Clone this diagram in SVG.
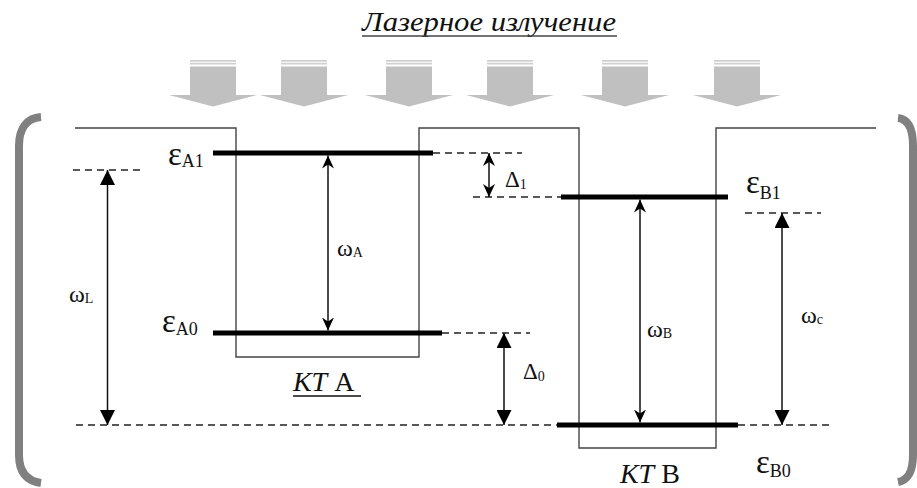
<svg xmlns="http://www.w3.org/2000/svg" width="917" height="488" viewBox="0 0 917 488">
<style>
.prof{fill:none;stroke:#444;stroke-width:1.4}
.lvl{stroke:#000;stroke-width:5}
.dash{stroke:#222;stroke-width:1.4;stroke-dasharray:7 5}
.arr{stroke:#111;stroke-width:1.5;fill:none}
.br{fill:none;stroke:#808080;stroke-width:8}
.t{font-family:"Liberation Serif","DejaVu Serif","Noto Serif",serif;fill:#111}
.eps{font-size:33px}
.sub{font-size:18px}
.om{font-size:24px}
.osub{font-size:14px}
</style>
<defs>
<marker id="tri" viewBox="0 0 15 15" refX="15" refY="7.5" markerWidth="15" markerHeight="15" markerUnits="userSpaceOnUse" orient="auto-start-reverse">
<path d="M0,0 L15,7.5 L0,15 z" fill="#000"/>
</marker>
<marker id="stl" viewBox="0 0 13 13" refX="13" refY="6.5" markerWidth="13" markerHeight="13" markerUnits="userSpaceOnUse" orient="auto-start-reverse">
<path d="M0,0.5 L13,6.5 L0,12.5 L4,6.5 z" fill="#000"/>
</marker>
<g id="laser">
<rect x="-23" y="60" width="46" height="1.7" fill="#cfcfcf"/>
<rect x="-23" y="62.8" width="46" height="1.7" fill="#cfcfcf"/>
<rect x="-23" y="66.5" width="46" height="29" fill="#c0c0c0"/>
<polygon points="-44,95 44,95 0,106.5" fill="#c0c0c0"/>
</g>
</defs>
<rect width="917" height="488" fill="#fff"/>

<g id="title">
<text class="t" x="362" y="31" font-size="27" font-style="italic" textLength="254" lengthAdjust="spacingAndGlyphs">Лазерное излучение</text>
<line x1="362" y1="36" x2="617" y2="36" stroke="#444" stroke-width="1.6"/>
</g>

<g id="laser-arrows">
<use href="#laser" x="213"/>
<use href="#laser" x="304"/>
<use href="#laser" x="409"/>
<use href="#laser" x="510"/>
<use href="#laser" x="625"/>
<use href="#laser" x="737"/>
</g>

<g id="brackets">
<path class="br" d="M41,117 C27,118 19,128 19,146 V455 C19,472 27,481 41,483"/>
<path class="br" d="M898,118 C908,119 913,128 913,146 V455 C913,472 908,480 898,482"/>
</g>

<g id="profile">
<path class="prof" d="M75,128 H236 V357 H419 V128 H579 V448 H716 V128 H876"/>
</g>

<g id="dashes">
<line class="dash" x1="433" y1="153" x2="522" y2="153"/>
<line class="dash" x1="73" y1="170" x2="144" y2="170"/>
<line class="dash" x1="473" y1="197" x2="561" y2="197"/>
<line class="dash" x1="745" y1="213" x2="821" y2="213"/>
<line class="dash" x1="442" y1="333" x2="530" y2="333"/>
<line class="dash" x1="76" y1="425" x2="557" y2="425"/>
<line class="dash" x1="738" y1="425" x2="832" y2="425"/>
</g>

<g id="level-A1">
<line class="lvl" x1="213" y1="153" x2="433" y2="153"/>
<text class="t" x="168" y="165"><tspan class="eps">ε</tspan><tspan class="sub" dy="2">A1</tspan></text>
</g>
<g id="level-A0">
<line class="lvl" x1="213" y1="333" x2="442" y2="333"/>
<text class="t" x="162" y="332"><tspan class="eps">ε</tspan><tspan class="sub" dy="3">A0</tspan></text>
</g>
<g id="level-B1">
<line class="lvl" x1="561" y1="197" x2="728" y2="197"/>
<text class="t" x="746" y="193"><tspan class="eps">ε</tspan><tspan class="sub" dy="6">B1</tspan></text>
</g>
<g id="level-B0">
<line class="lvl" x1="557" y1="425" x2="738" y2="425"/>
<text class="t" x="756" y="473"><tspan class="eps">ε</tspan><tspan class="sub" dy="4">B0</tspan></text>
</g>

<g id="well-A-label">
<text class="t" x="293" y="391" font-size="28"><tspan font-style="italic">КТ</tspan> А</text>
<line x1="293" y1="396" x2="361" y2="396" stroke="#111" stroke-width="1.6"/>
</g>
<g id="well-B-label">
<text class="t" x="620" y="483" font-size="28"><tspan font-style="italic">КТ</tspan> В</text>
</g>

<g id="connectors">
<line class="arr" x1="107.5" y1="170" x2="107.5" y2="425" marker-start="url(#tri)" marker-end="url(#tri)"/>
<line class="arr" x1="328" y1="155.5" x2="328" y2="330.5" marker-start="url(#stl)" marker-end="url(#stl)"/>
<line class="arr" x1="640" y1="199.5" x2="640" y2="422.5" marker-start="url(#stl)" marker-end="url(#stl)"/>
<line class="arr" x1="782" y1="213" x2="782" y2="425" marker-start="url(#tri)" marker-end="url(#tri)"/>
<line class="arr" x1="489" y1="153" x2="489" y2="197" marker-start="url(#stl)" marker-end="url(#stl)"/>
<line class="arr" x1="504" y1="333" x2="504" y2="425" marker-start="url(#tri)" marker-end="url(#tri)"/>
</g>

<g id="labels">
<text class="t" x="69" y="302"><tspan class="om">ω</tspan><tspan class="osub" dy="1">L</tspan></text>
<text class="t" x="337" y="256"><tspan class="om">ω</tspan><tspan class="osub" dy="1">A</tspan></text>
<text class="t" x="647" y="337"><tspan class="om">ω</tspan><tspan class="osub" dy="1">B</tspan></text>
<text class="t" x="801" y="323"><tspan class="om">ω</tspan><tspan class="osub" dy="1">c</tspan></text>
<text class="t" x="505" y="187"><tspan font-size="23">Δ</tspan><tspan class="osub" dy="2">1</tspan></text>
<text class="t" x="523" y="379"><tspan font-size="23">Δ</tspan><tspan class="osub" dy="2">0</tspan></text>
</g>
</svg>
